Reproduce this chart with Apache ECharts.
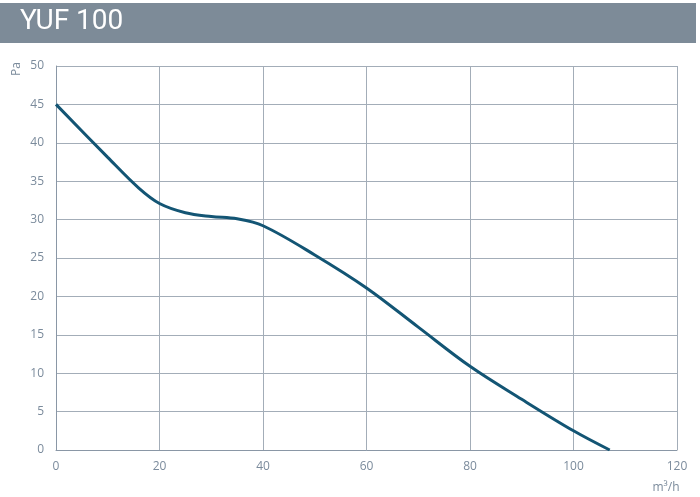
<!DOCTYPE html>
<html><head><meta charset="utf-8">
<script src="https://cdn.jsdelivr.net/npm/echarts@6/dist/echarts.min.js"></script>
<style>html,body{margin:0;padding:0;background:#fff}#c{width:700px;height:497px}</style>
</head><body><div id="c"></div>
<script>
const title = "YUF 100";
const xTicks = [0, 20, 40, 60, 80, 100, 120];
const yTicks = [0, 5, 10, 15, 20, 25, 30, 35, 40, 45, 50];
const flow = [0, 10, 16, 20, 25, 30, 35, 40, 50, 60, 70, 80, 90, 100, 107];
const pressure = [45, 38.1, 34.1, 32.1, 30.9, 30.4, 30.1, 29.2, 25.4, 21.1, 16, 10.9, 6.6, 2.5, 0];

const chart = echarts.init(document.getElementById('c'));
const labelColor = '#7b8b9c';
const gridColor = '#a3adb8';
chart.setOption({
  animation: false,
  grid: {left: 56, right: 23, top: 66, bottom: 47},
  graphic: [
    {type: 'rect', shape: {x: 0, y: 3, width: 696, height: 40}, style: {fill: '#7d8b98'}},
    {type: 'text', left: 20, top: 8, style: {text: title, fill: '#ffffff', font: '400 28px Roboto'}},
    {type: 'text', style: {text: 'Pa', fill: labelColor, font: '12px "Open Sans"', textAlign: 'center', textVerticalAlign: 'middle'}, x: 17, y: 69, rotation: Math.PI / 2},
    {type: 'text', style: {text: 'm³/h', fill: labelColor, font: '12px "Open Sans"', textAlign: 'center', textVerticalAlign: 'middle'}, x: 666, y: 488}
  ],
  xAxis: {
    type: 'value', min: xTicks[0], max: xTicks[xTicks.length - 1], interval: 20,
    axisLine: {show: true, lineStyle: {color: '#8a97a6', width: 1}},
    axisTick: {show: false},
    axisLabel: {color: labelColor, fontSize: 12, fontFamily: 'Open Sans', margin: 11},
    splitLine: {show: true, lineStyle: {color: gridColor, width: 1}}
  },
  yAxis: {
    type: 'value', min: yTicks[0], max: yTicks[yTicks.length - 1], interval: 5,
    axisLine: {show: true, lineStyle: {color: '#8a97a6', width: 1}},
    axisTick: {show: false},
    axisLabel: {color: labelColor, fontSize: 12, fontFamily: 'Open Sans', margin: 12},
    splitLine: {show: true, lineStyle: {color: gridColor, width: 1}}
  },
  series: [{
    type: 'line', smooth: 0.35, showSymbol: false,
    data: flow.map((f, i) => [f, pressure[i]]),
    lineStyle: {color: '#135574', width: 3}
  }]
});
</script></body></html>
